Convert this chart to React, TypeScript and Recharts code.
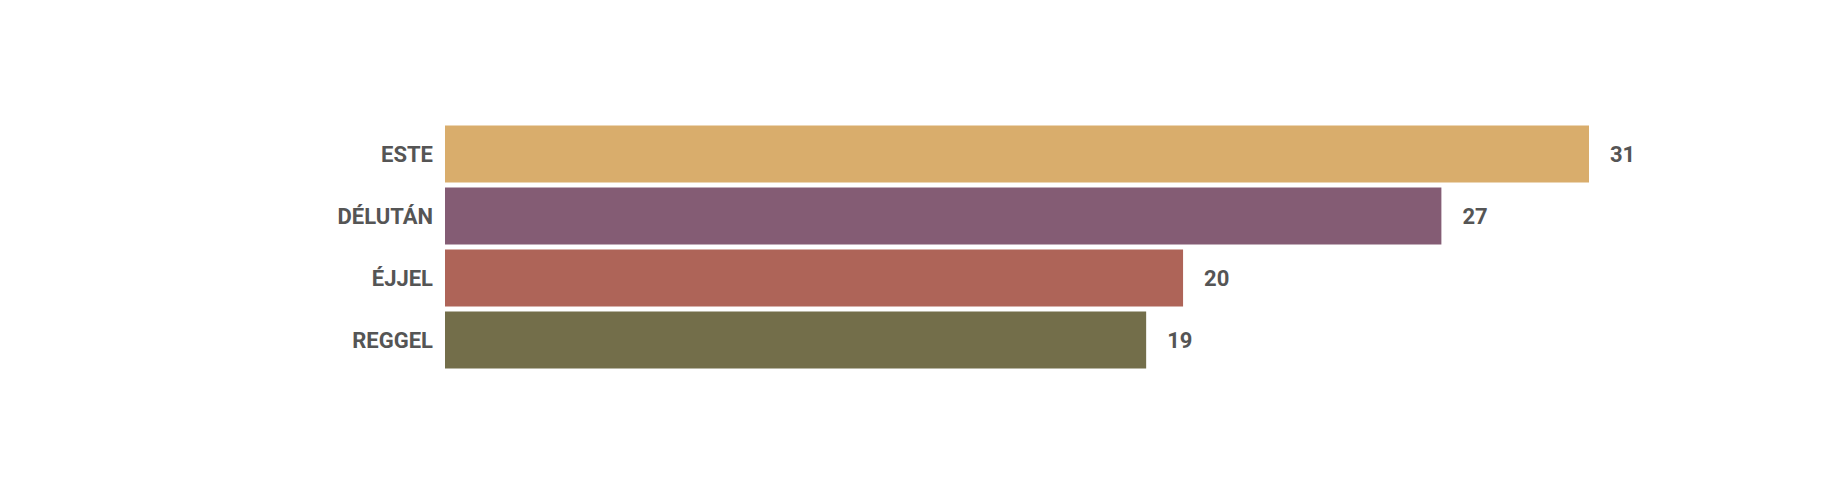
import React from "react";
import { BarChart, Bar, XAxis, YAxis, Cell, LabelList } from "recharts";

const categories = ["ESTE", "DÉLUTÁN", "ÉJJEL", "REGGEL"];
const values = [31, 27, 20, 19];
const colors = ["#D9AD6C", "#845C74", "#AE6458", "#736E4A"];

const data = categories.map((name, i) => ({ name, value: values[i] }));

const FONT = "Roboto, 'DejaVu Sans', sans-serif";

export default function App() {
  return (
    <div style={{ position: "absolute", left: 0, top: 0, width: 1838, height: 490, background: "#fff" }}>
      <BarChart
        width={1838}
        height={490}
        data={data}
        layout="vertical"
        margin={{ top: 123, right: 249, bottom: 119, left: 0 }}
        barCategoryGap={2.4}
      >
        <XAxis type="number" domain={[0, 31]} hide />
        <YAxis
          type="category"
          dataKey="name"
          width={445}
          axisLine={false}
          tickLine={false}
          tickSize={0}
          tickMargin={12}
          tick={{ fill: "#555555", fontSize: 22, fontWeight: 700, fontFamily: FONT }}
        />
        <Bar dataKey="value" isAnimationActive={false}>
          {data.map((d, i) => (
            <Cell key={d.name} fill={colors[i]} />
          ))}
          <LabelList
            dataKey="value"
            position="right"
            offset={21}
            fill="#555555"
            style={{ fontSize: 22, fontWeight: 700, fontFamily: FONT }}
          />
        </Bar>
      </BarChart>
    </div>
  );
}
